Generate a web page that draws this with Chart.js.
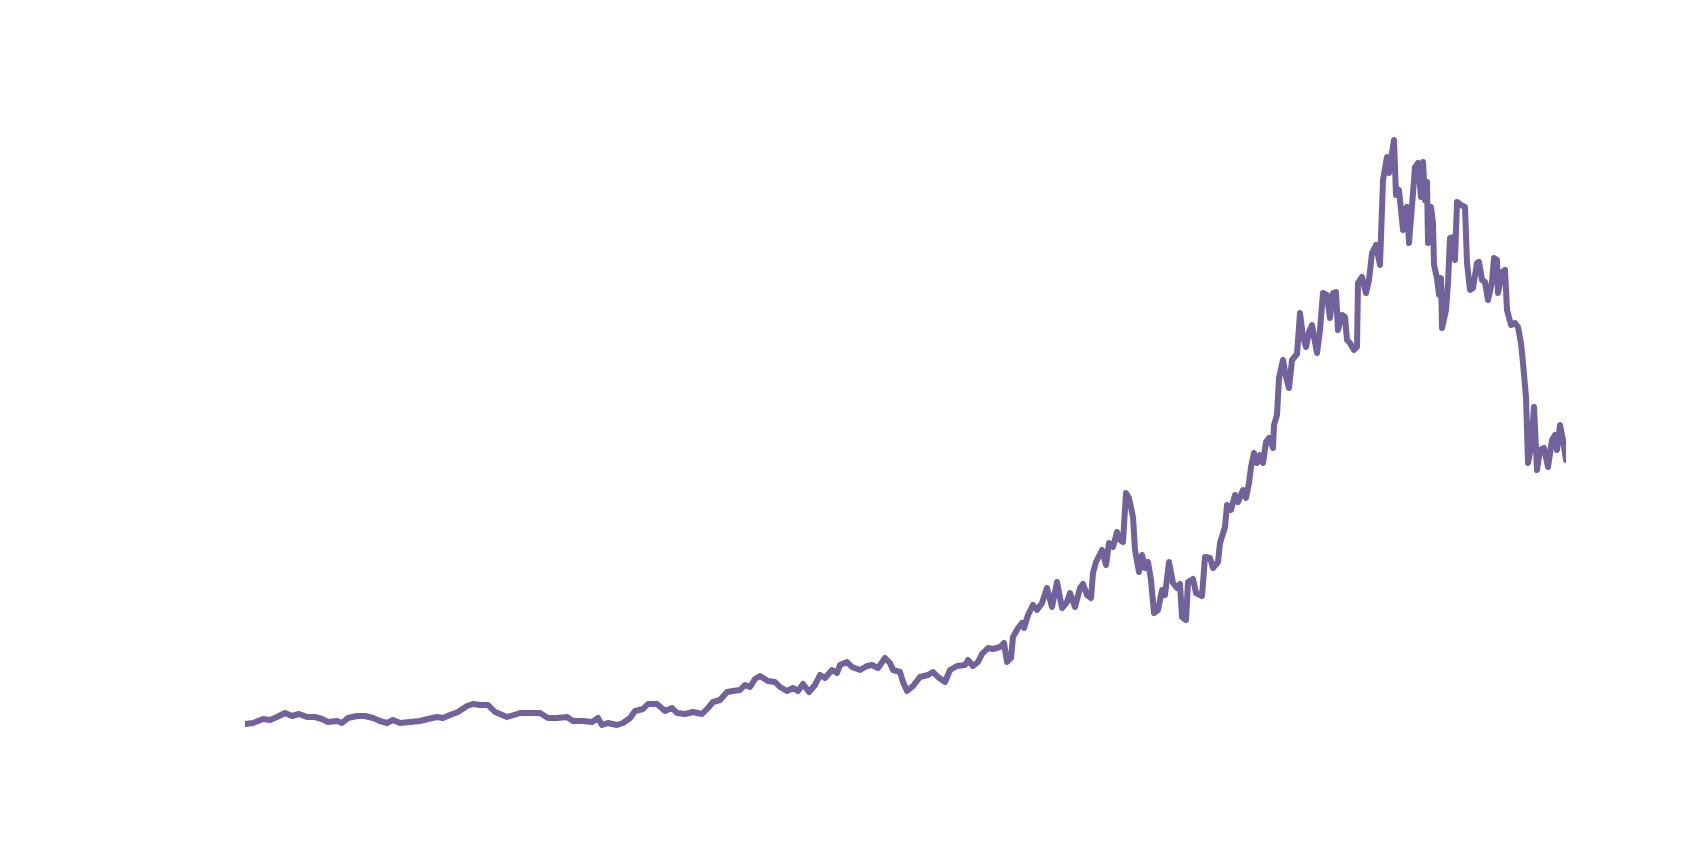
<!DOCTYPE html>
<html>
<head>
<meta charset="utf-8">
<script src="https://cdn.jsdelivr.net/npm/chart.js@4/dist/chart.umd.min.js"></script>
<style>
  html, body { margin: 0; padding: 0; background: #ffffff; }
  #wrap { width: 1704px; height: 845px; position: relative; }
</style>
</head>
<body>
<div id="wrap"><canvas id="priceChart"></canvas></div>
<script>
// day index of each sample
const tradingDay = [
  0, 8, 18, 25, 32, 40, 47, 54, 62, 70, 77, 83, 92, 97, 103, 112, 120, 128, 135, 142,
  148, 155, 165, 175, 183, 192, 198, 205, 213, 222, 228, 235, 243, 250, 262, 272,
  275, 285, 295, 303, 312, 322, 328, 338, 347, 353, 357, 363, 372, 378, 385, 390,
  398, 403, 412, 420, 427, 432, 440, 448, 457, 463, 468, 475, 482, 488, 495, 500,
  505, 510, 515, 523, 530, 535, 542, 548, 553, 558, 564,
  570, 575, 580, 587, 592, 595, 602, 607, 615, 622, 627, 633, 640, 645, 648, 655,
  658, 662, 668, 675, 683, 688, 693, 700, 705, 712, 720, 723, 728, 733, 737, 743,
  748, 755, 759, 762, 766, 768, 773, 777, 779, 783, 788, 792, 797, 802, 807, 812, 817,
  822, 825, 830, 835, 838, 842, 846, 848, 851, 857, 861, 864, 868, 872, 875, 878,
  881, 884, 888, 890, 894, 897, 900, 903, 906, 909, 913, 917, 920, 924, 928, 932,
  935, 937, 941, 943, 948, 951, 957, 960, 965, 968, 973, 975, 980, 982, 986, 990,
  993, 998, 1001, 1004, 1006, 1009,
  1012, 1015, 1018, 1021, 1024, 1028, 1029, 1032, 1034, 1038, 1041, 1044, 1047, 1052,
  1055, 1058, 1061, 1064, 1067, 1069, 1072, 1075, 1078, 1082, 1085, 1088, 1091, 1093,
  1097, 1100, 1102, 1105, 1109, 1112, 1113, 1117, 1121, 1124, 1127, 1131, 1135, 1138,
  1142, 1144, 1147, 1149, 1151, 1154,
  1158, 1160, 1162, 1164, 1168, 1170, 1173, 1176, 1178, 1180, 1182, 1183, 1186, 1188,
  1189, 1192, 1194, 1196, 1197, 1201, 1203, 1205, 1208, 1210, 1212, 1216, 1220, 1222,
  1225, 1228, 1232, 1234, 1237, 1240, 1243, 1247, 1249, 1252, 1253, 1257, 1260, 1262,
  1266, 1270, 1273, 1276, 1278, 1281, 1283, 1286, 1289, 1292, 1295, 1299, 1303, 1307,
  1310, 1312, 1315, 1318, 1321
];

// closing price of each sample
const closePrice = [
  9.0, 9.25, 10.25, 10.0, 10.75, 11.75, 11.0, 11.5, 10.75, 10.75, 10.25, 9.5, 9.75, 9.25, 10.5, 11.0, 11.0, 10.5, 9.75, 9.25,
  10.0, 9.25, 9.5, 9.75, 10.25, 10.75, 10.5, 11.25, 12.0, 13.5, 14.0, 13.75, 13.75, 12.0, 10.75, 11.5,
  11.75, 11.75, 11.75, 10.5, 10.5, 10.75, 9.75, 9.75, 9.5, 10.5, 8.75, 9.25, 8.75, 9.25, 10.5, 12.25,
  12.75, 14.0, 14.0, 12.25, 13.0, 11.75, 11.5, 12.0, 11.5, 13.0, 14.5, 15.0, 17.0, 17.25, 17.5, 18.75,
  18.25, 20.25, 21.0, 19.75, 19.5, 18.25, 17.25, 18.0, 17.25, 19.0, 17.0,
  18.75, 21.25, 20.5, 22.5, 21.75, 23.75, 24.5, 23.25, 22.5, 23.5, 23.75, 23.0, 25.5, 24.25, 22.5, 22.0,
  19.5, 17.25, 18.5, 20.75, 21.25, 22.0, 20.75, 19.5, 22.5, 23.5, 23.75, 25.0, 23.5, 24.5, 26.5, 28.0,
  27.75, 28.25, 29.25, 24.5, 25.5, 30.75, 33.0, 34.25, 33.0, 36.25, 38.75, 37.5, 39.25, 43.0, 38.25, 44.5, 38.0,
  39.5, 41.75, 38.25, 43.0, 44.0, 41.25, 40.5, 46.75, 49.5, 52.5, 48.75, 54.25, 53.25, 57.0, 55.0, 54.5,
  66.75, 65.5, 60.75, 52.5, 47.0, 51.25, 48.0, 49.5, 45.0, 36.75, 37.5, 42.5, 41.25, 49.5, 44.25, 43.0,
  44.0, 35.75, 35.0, 44.5, 45.25, 41.75, 41.0, 50.75, 50.5, 48.0, 49.5, 54.25, 58.25, 63.75, 62.5, 66.25,
  64.5, 67.5, 65.5, 69.25, 73.25, 76.75,
  74.25, 76.25, 74.25, 79.5, 80.5, 78.0, 83.75, 86.25, 95.5, 100.0, 95.75, 93.0, 100.0, 101.5,
  111.75, 105.75, 103.25, 107.0, 108.75, 105.75, 101.75, 107.5, 116.75, 116.25, 110.5, 116.75, 117.0, 107.5,
  111.25, 110.75, 105.0, 104.25, 102.5, 103.25, 119.25, 120.75, 116.75, 120.0, 126.75, 128.75, 123.75, 145.0,
  150.75, 146.75, 151.75, 155.0, 141.25, 142.5,
  132.5, 137.5, 138.25, 129.25, 141.75, 148.25, 149.25, 140.75, 149.5, 140.0, 144.5, 129.25, 138.25, 134.25,
  123.75, 120.5, 116.25, 120.5, 108.0, 112.5, 119.25, 130.5, 130.75, 125.0, 139.5, 138.75, 138.25, 124.25,
  117.5, 118.0, 124.25, 124.5, 120.0, 119.5, 115.0, 119.5, 125.5, 125.0, 116.75, 122.0, 122.5, 112.5,
  108.75, 109.25, 108.25, 104.25, 99.25, 90.75, 74.25, 78.25, 88.25, 72.5, 77.5, 78.0, 73.25, 80.0,
  81.25, 77.5, 83.75, 80.0, 75.0
];

const lineColor = '#72619b';

const points = tradingDay.map(function (d, i) {
    return { x: d, y: closePrice[i] };
});

const ctx = document.getElementById('priceChart').getContext('2d');
new Chart(ctx, {
    type: 'line',
    data: {
        datasets: [{
            data: points,
            borderColor: lineColor,
            borderWidth: 6,
            borderCapStyle: 'round',
            borderJoinStyle: 'round',
            pointRadius: 0,
            tension: 0,
            fill: false
        }]
    },
    options: {
        responsive: true,
        maintainAspectRatio: false,
        animation: false,
        layout: { padding: { left: 245, right: 138, top: 0, bottom: 85 } },
        plugins: {
            legend: { display: false },
            tooltip: { enabled: false }
        },
        scales: {
            x: { type: 'linear', min: 0, max: 1321, display: false },
            y: { min: 0, max: 190, display: false }
        }
    }
});
</script>
</body>
</html>
